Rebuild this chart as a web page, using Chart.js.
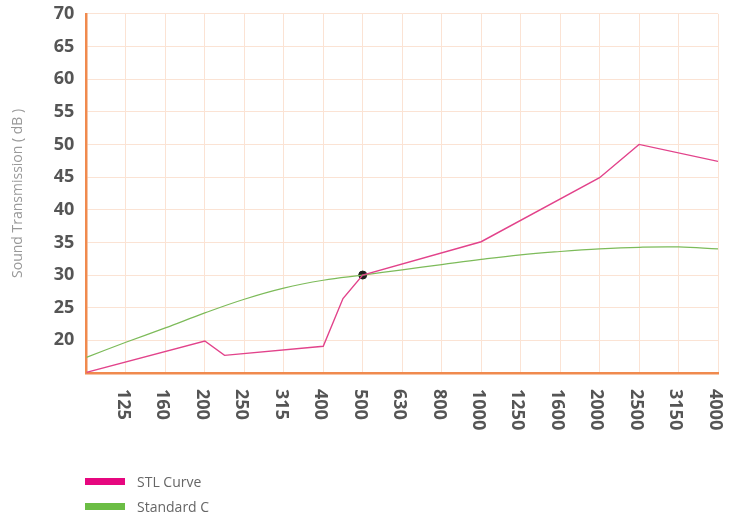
<!DOCTYPE html>
<html>
<head>
<meta charset="utf-8">
<script src="https://cdn.jsdelivr.net/npm/chart.js@4"></script>
<style>
  body { margin: 0; background: #fff; }
  #wrap { position: relative; width: 738px; height: 520px; }
  #legend { position: absolute; left: 85px; top: 469px; font-family: "Open Sans", sans-serif; font-size: 14px; color: #666; }
  #legend div { height: 25px; display: flex; align-items: center; }
  #legend span.box { display: inline-block; width: 40px; height: 7px; margin-right: 12px; }
</style>
</head>
<body>
<div id="wrap">
  <canvas id="myChart"></canvas>
  <div id="legend"></div>
</div>
<script>
// 1/3 octave bands (first one is the axis origin, no label shown)
const freqLabels = ['100', '125', '160', '200', '250', '315', '400', '500', '630', '800', '1000', '1250', '1600', '2000', '2500', '3150', '4000'];

// STL curve - band positions (index on the axis) and values
const stlPos = [0, 3, 3.5, 6, 6.5, 7, 10, 13, 14, 16];
const stlValues = [15.1, 19.9, 17.7, 19.1, 26.4, 30, 35.1, 44.9, 50, 47.4];

// Standard C - one value per band
const standardC = [17.4, 19.7, 21.9, 24.2, 26.3, 28.0, 29.2, 30.0, 30.8, 31.6, 32.4, 33.1, 33.6, 34.0, 34.25, 34.3, 34.0];

// where both curves meet (500 Hz)
const crossPos = 7;
const crossValue = 30;

const stlColor = '#e2438b';
const stdColor = '#7dbb5a';

let stlData = [];
for (let i = 0; i < stlPos.length; i++) {
    stlData[i] = {x: stlPos[i], y: stlValues[i]};
}
let stdData = [];
for (let i = 0; i < standardC.length; i++) {
    stdData[i] = {x: i, y: standardC[i]};
}

// x labels read top to bottom, drawn under the axis
const downLabels = {
    id: 'downLabels',
    afterDraw(chart) {
        let c = chart.ctx;
        let xs = chart.scales.x;
        c.save();
        c.fillStyle = '#555';
        c.font = 'bold 18px "Open Sans"';
        c.textAlign = 'left';
        c.textBaseline = 'middle';
        for (let i = 1; i < freqLabels.length; i++) {
            c.save();
            c.translate(xs.getPixelForValue(i) - 3, xs.bottom + 16);
            c.rotate(Math.PI / 2);
            c.fillText(freqLabels[i], 0, 0);
            c.restore();
        }
        c.restore();
    }
};

let ctx = document.getElementById('myChart').getContext('2d');
new Chart(ctx, {
    type: 'line',
    data: {
        datasets: [{
            label: 'STL Curve',
            data: stlData,
            borderColor: stlColor,
            backgroundColor: '#e6077f',
            borderWidth: 1.4,
            pointRadius: 0,
            tension: 0
        }, {
            label: 'Standard C',
            data: stdData,
            borderColor: stdColor,
            backgroundColor: '#6bbd45',
            borderWidth: 1.2,
            pointRadius: 0,
            tension: 0.4
        }, {
            label: '',
            data: [{x: crossPos, y: crossValue}],
            showLine: false,
            pointRadius: 4,
            pointBackgroundColor: '#1e1e1e',
            pointBorderColor: '#1e1e1e'
        }]
    },
    options: {
        responsive: true,
        maintainAspectRatio: false,
        animation: false,
        layout: { padding: { left: 6, right: 20, top: 0, bottom: 147 } },
        plugins: {
            legend: { display: false },
            tooltip: { enabled: false }
        },
        scales: {
            x: {
                type: 'linear',
                min: 0,
                max: freqLabels.length - 1,
                grid: { color: '#fbe3d4', drawTicks: false },
                border: { color: '#f08a4e', width: 2.5 },
                ticks: { display: false, stepSize: 1, autoSkip: false }
            },
            y: {
                min: 15,
                max: 70,
                grid: { color: '#fbe3d4', drawTicks: false },
                border: { color: '#f08a4e', width: 2.5 },
                ticks: {
                    stepSize: 5,
                    padding: 12,
                    color: '#555',
                    font: { family: 'Open Sans', size: 18, weight: 'bold', lineHeight: 0.2 },
                    callback: function (value) {
                        return value === 15 ? '' : value;
                    }
                },
                title: {
                    display: true,
                    text: 'Sound Transmission ( dB )',
                    color: '#999',
                    padding: { top: 4, bottom: 15 },
                    font: { family: 'Open Sans', size: 14 }
                }
            }
        }
    },
    plugins: [downLabels]
});

// legend under the chart, one item per line
let legend = document.getElementById('legend');
[['STL Curve', '#e6077f'], ['Standard C', '#6bbd45']].forEach(function (item) {
    let row = document.createElement('div');
    row.innerHTML = '<span class="box" style="background:' + item[1] + '"></span>' + item[0];
    legend.appendChild(row);
});
</script>
</body>
</html>
